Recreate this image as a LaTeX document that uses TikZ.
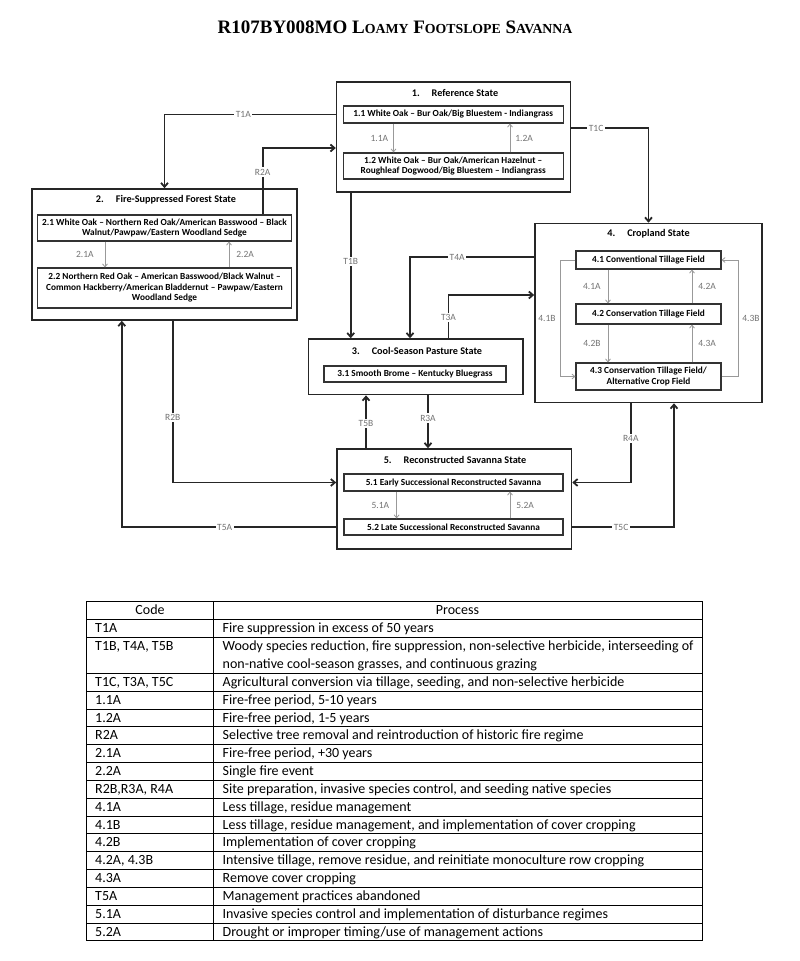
\documentclass[tikz,border=0pt]{standalone}
\usepackage{fontspec}
\setmainfont{Carlito}
\newfontfamily\titlefont{Liberation Serif}
\usetikzlibrary{arrows.meta}
\newcommand\tcaps[1]{{\fontsize{13.8}{14}\selectfont #1}}

\begin{document}
\begin{tikzpicture}[x=1pt,y=-1pt,
  state/.style={draw=black!85, line width=1.6pt},
  stitle/.style={font=\bfseries\fontsize{10.2}{12}\selectfont},
  sub/.style={draw=black!80, line width=1.1pt, align=center, inner sep=0pt, font=\bfseries\fontsize{9.3}{10.5}\selectfont},
  trans/.style={draw=black!85, line width=1.8pt, -{Straight Barb[length=4pt,width=7pt]}},
  phase/.style={draw=black!40, line width=0.8pt, -{Straight Barb[length=3pt,width=5pt]}},
  lab/.style={text=black!55, font=\fontsize{9.5}{10}\selectfont, fill=white, inner sep=1.5pt},
  plab/.style={text=black!55, font=\fontsize{9.5}{10}\selectfont, inner sep=1pt},
  cell/.style={font=\fontsize{14}{17.8}\selectfont, inner sep=0pt, anchor=base west}]

  \useasboundingbox (0,0) rectangle (800,961);
  \node[font=\titlefont\bfseries\fontsize{19}{20}\selectfont] (title) at (395,27)
    {R107BY008MO L\tcaps{OAMY} F\tcaps{OOTSLOPE} S\tcaps{AVANNA}};

  \node[state, minimum width=234, minimum height=110] (s1) at (453.6,137) {};
  \node[stitle] (t1) at (455,92.5) {1.\hspace{12pt}Reference State};
  \node[sub, minimum width=220, minimum height=17] (s11) at (453.2,114.5) {1.1 White Oak – Bur Oak/Big Bluestem - Indiangrass};
  \node[sub, minimum width=220, minimum height=26] (s12) at (453.2,166) {1.2 White Oak – Bur Oak/American Hazelnut –\\Roughleaf Dogwood/Big Bluestem – Indiangrass};
  \draw[phase] (393.5,0 |- s11.south) -- node[plab,left=4pt]{1.1A} (393.5,0 |- s12.north);
  \draw[phase] (510,0 |- s12.north) -- node[plab,right=4pt]{1.2A} (510,0 |- s11.south);

  \node[state, minimum width=265, minimum height=131] (s2) at (164.5,254.5) {};
  \node[stitle] (t2) at (166,200) {2.\hspace{12pt}Fire-Suppressed Forest State};
  \node[sub, minimum width=254, minimum height=26] (s21) at (164.5,228) {2.1 White Oak – Northern Red Oak/American Basswood – Black\\Walnut/Pawpaw/Eastern Woodland Sedge};
  \node[sub, minimum width=254, minimum height=40] (s22) at (164.5,288) {2.2 Northern Red Oak – American Basswood/Black Walnut –\\Common Hackberry/American Bladdernut – Pawpaw/Eastern\\Woodland Sedge};
  \draw[phase] (105,0 |- s21.south) -- node[plab,left=10pt]{2.1A} (105,0 |- s22.north);
  \draw[phase] (229,0 |- s22.north) -- node[plab,right=6pt]{2.2A} (229,0 |- s21.south);

  \node[state, minimum width=214.4, minimum height=55.5] (s3) at (415.8,366.8) {};
  \node[stitle] (t3) at (417,351) {3.\hspace{12pt}Cool-Season Pasture State};
  \node[sub, minimum width=182, minimum height=16] (s31) at (415,374) {3.1 Smooth Brome – Kentucky Bluegrass};

  \node[state, minimum width=227, minimum height=179] (s4) at (648.5,313) {};
  \node[stitle] (t4) at (648.5,234) {4.\hspace{12pt}Cropland State};
  \node[sub, minimum width=145, minimum height=18] (s41) at (648.5,260) {4.1 Conventional Tillage Field};
  \node[sub, minimum width=145, minimum height=20] (s42) at (648.5,314) {4.2 Conservation Tillage Field};
  \node[sub, minimum width=145, minimum height=27] (s43) at (648.5,376.5) {4.3 Conservation Tillage Field/\\Alternative Crop Field};
  \draw[phase] (608,0 |- s41.south) -- node[plab,left=6pt]{4.1A} (608,0 |- s42.north);
  \draw[phase] (692,0 |- s42.north) -- node[plab,right=5pt]{4.2A} (692,0 |- s41.south);
  \draw[phase] (608,0 |- s42.south) -- node[plab,left=6pt]{4.2B} (608,0 |- s43.north);
  \draw[phase] (692,0 |- s43.north) -- node[plab,right=5pt]{4.3A} (692,0 |- s42.south);
  \draw[phase] (s41.west) -- (560,0 |- s41.west) |- node[plab,pos=0.25,left=3pt]{4.1B} (s43.west);
  \draw[phase] (s43.east) -- (738,0 |- s43.east) |- node[plab,pos=0.25,right=3pt]{4.3B} (s41.east);

  \node[state, minimum width=234.5, minimum height=100] (s5) at (454.2,499) {};
  \node[stitle] (t5) at (455,460) {5.\hspace{12pt}Reconstructed Savanna State};
  \node[sub, minimum width=219, minimum height=17] (s51) at (453.5,482.5) {5.1 Early Successional Reconstructed Savanna};
  \node[sub, minimum width=219, minimum height=16] (s52) at (453.5,527) {5.2 Late Successional Reconstructed Savanna};
  \draw[phase] (396.6,0 |- s51.south) -- node[plab,left=6pt]{5.1A} (396.6,0 |- s52.north);
  \draw[phase] (510,0 |- s52.north) -- node[plab,right=5pt]{5.2A} (510,0 |- s51.south);

  \draw[trans] (s1.west |- s11) -| node[lab,pos=0.27]{T1A} (s2.north);
  \draw[trans] (262.6,0 |- s21.north) |- node[lab,pos=0.32]{R2A} (s1.west |- 0,148);
  \draw[trans] (s1.east |- 0,128.3) -| node[lab,pos=0.16]{T1C} (s4.north);
  \draw[trans] (350.7,0 |- s1.south) -- node[lab,pos=0.47]{T1B} (350.7,0 |- s3.north);
  \draw[trans] (s4.west |- 0,257) -| node[lab,pos=0.31]{T4A} (410,0 |- s3.north);
  \draw[trans] (448.5,0 |- s3.north) |- node[lab,pos=0.24]{T3A} (s4.west |- 0,295);
  \draw[trans] (366,0 |- s5.north) -- node[lab,pos=0.46]{T5B} (366,0 |- s3.south);
  \draw[trans] (428,0 |- s3.south) -- node[lab,pos=0.43]{R3A} (428,0 |- s5.north);
  \draw[trans] (172.7,0 |- s2.south) |- node[lab,pos=0.3]{R2B} (s5.west |- s51);
  \draw[trans] (s5.west |- s52) -| node[lab,pos=0.26]{T5A} (121.8,0 |- s2.south);
  \draw[trans] (630.8,0 |- s4.south) |- node[lab,pos=0.22]{R4A} (s5.east |- s51);
  \draw[trans] (s5.east |- s52) -| node[lab,pos=0.24]{T5C} (674,0 |- s4.south);

  \draw[line width=1pt] (86.7,601) rectangle (702,940.9);
  \draw[line width=1pt] (213,601) -- (213,940.9);
  \foreach \k in {0,1} {
    \draw[line width=1pt] (86.7,619.8+\k*17.84) -- (702,619.8+\k*17.84);
  }
  \foreach \k in {3,...,17} {
    \draw[line width=1pt] (86.7,619.8+\k*17.84) -- (702,619.8+\k*17.84);
  }
  \node[cell, anchor=base] (hcode) at (150,614.5) {Code};
  \node[cell, anchor=base] (hproc) at (457.5,614.5) {Process};

  \foreach \r/\c/\p in {
    1/T1A/{Fire suppression in excess of 50 years},
    2/{T1B, T4A, T5B}/{Woody species reduction, fire suppression, non-selective herbicide, interseeding of},
    3/{}/{non-native cool-season grasses, and continuous grazing},
    4/{T1C, T3A, T5C}/{Agricultural conversion via tillage, seeding, and non-selective herbicide},
    5/1.1A/{Fire-free period, 5-10 years},
    6/1.2A/{Fire-free period, 1-5 years},
    7/R2A/{Selective tree removal and reintroduction of historic fire regime},
    8/2.1A/{Fire-free period, +30 years},
    9/2.2A/{Single fire event},
    10/{R2B,R3A, R4A}/{Site preparation, invasive species control, and seeding native species},
    11/4.1A/{Less tillage, residue management},
    12/4.1B/{Less tillage, residue management, and implementation of cover cropping},
    13/4.2B/{Implementation of cover cropping},
    14/{4.2A, 4.3B}/{Intensive tillage, remove residue, and reinitiate monoculture row cropping},
    15/4.3A/{Remove cover cropping},
    16/T5A/{Management practices abandoned},
    17/5.1A/{Invasive species control and implementation of disturbance regimes},
    18/5.2A/{Drought or improper timing/use of management actions}} {
    \node[cell] (c\r) at (95,615+\r*17.84) {\c};
    \node[cell] (p\r) at (222.5,615+\r*17.84) {\p};
  }

\end{tikzpicture}
\end{document}
